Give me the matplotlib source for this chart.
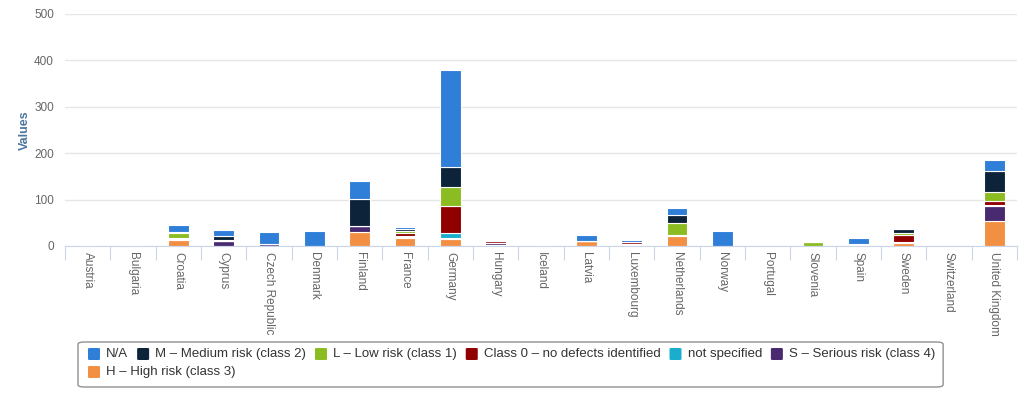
import matplotlib.pyplot as plt
from matplotlib.patches import FancyBboxPatch
import numpy as np

plt.rcParams['font.family'] = ['Liberation Sans', 'DejaVu Sans']

countries = ['Austria', 'Bulgaria', 'Croatia', 'Cyprus', 'Czech Republic', 'Denmark',
             'Finland', 'France', 'Germany', 'Hungary', 'Iceland', 'Latvia', 'Luxembourg',
             'Netherlands', 'Norway', 'Portugal', 'Slovenia', 'Spain', 'Sweden',
             'Switzerland', 'United Kingdom']

# series, listed in legend order (first one ends up on top of the stack)
series_names = ['N/A', 'M – Medium risk (class 2)', 'L – Low risk (class 1)',
                'Class 0 – no defects identified', 'not specified',
                'S – Serious risk (class 4)', 'H – High risk (class 3)']
colors = ['#2f7ed8', '#0d233a', '#8bbc21', '#910000', '#1aadce', '#492970', '#f28f43']

na_vals = [3, 0, 15, 14, 25, 33, 39, 6, 209, 0, 3, 13, 6, 15, 32, 0, 0, 12, 0, 0, 24]
m_vals = [0, 0, 3, 8, 0, 0, 57, 3, 43, 0, 0, 0, 0, 18, 0, 0, 0, 0, 9, 0, 46]
l_vals = [0, 2, 10, 3, 0, 0, 0, 6, 42, 0, 0, 0, 0, 25, 0, 0, 8, 0, 4, 0, 19]
c0_vals = [0, 0, 2, 0, 0, 0, 0, 5, 58, 3, 0, 0, 3, 0, 0, 0, 0, 0, 16, 0, 9]
ns_vals = [0, 0, 0, 0, 0, 0, 0, 2, 10, 0, 0, 0, 0, 0, 0, 0, 0, 2, 0, 0, 2]
s_vals = [0, 0, 3, 10, 4, 0, 14, 3, 3, 4, 0, 0, 2, 2, 0, 0, 0, 0, 1, 0, 33]
h_vals = [0, 0, 13, 0, 1, 0, 30, 17, 15, 3, 0, 10, 3, 22, 0, 0, 1, 3, 7, 0, 53]

series = [na_vals, m_vals, l_vals, c0_vals, ns_vals, s_vals, h_vals]

W, H = 1019, 395
fig = plt.figure(figsize=(W / 100, H / 100), dpi=100)
ax = fig.add_axes([65 / W, 1 - 246 / H, (1017 - 65) / W, (246 - 14) / H])

x = np.arange(len(countries))
bottom = np.zeros(len(countries))
# stack from the last series up to the first
for name, vals, col in reversed(list(zip(series_names, series, colors))):
    v = np.array(vals, dtype=float)
    ax.bar(x, v, 0.46, bottom=bottom, color=col, edgecolor='white', linewidth=0.8, zorder=2)
    bottom += v

ax.set_xlim(-0.5, len(countries) - 0.5)
ax.set_ylim(0, 500)
ax.set_yticks(range(0, 501, 100))
ax.yaxis.grid(True, color='#e6e6e6', linewidth=1, zorder=0)
ax.set_axisbelow(True)
for s in ['top', 'right', 'left']:
    ax.spines[s].set_visible(False)
ax.spines['bottom'].set_color('#ccd6eb')
ax.spines['bottom'].set_zorder(3)
ax.tick_params(axis='y', length=0, pad=8, labelsize=8.5, labelcolor='#666666')

# category ticks sit on boundaries, labels in the middle
ax.set_xticks(np.arange(len(countries) + 1) - 0.5)
ax.set_xticklabels([])
ax.set_xticks(x, minor=True)
ax.set_xticklabels(countries, minor=True, rotation=-90, fontsize=8.5, color='#666666',
                   va='top', ha='center')
ax.tick_params(axis='x', which='major', length=10, color='#ccd6eb')
ax.tick_params(axis='x', which='minor', length=0, pad=4)

ax.set_ylabel('Values', fontsize=9, fontweight='bold', color='#4d759e', labelpad=2)

# legend box, laid out row by row like the original
fig.canvas.draw()
renderer = fig.canvas.get_renderer()


def px(xp, yp):
    return xp / W, 1 - yp / H


left, right_limit = 88, 940
row_y = [354, 372]
cur_x, row = left, 0
max_x = left
for name, col in zip(series_names, colors):
    t = fig.text(0, 0, name, fontsize=9.5, color='#333333')
    tw = t.get_window_extent(renderer).width
    item_w = 12 + 6 + tw
    if cur_x + item_w > right_limit and cur_x > left:
        row += 1
        cur_x = left
    yc = row_y[row]
    fig.patches.append(FancyBboxPatch(px(cur_x, yc + 6), 12 / W, 12 / H,
                                      boxstyle='round,pad=0,rounding_size=0.002',
                                      transform=fig.transFigure, facecolor=col,
                                      edgecolor='none'))
    t.set_position(px(cur_x + 18, yc))
    t.set_va('center')
    max_x = max(max_x, cur_x + item_w)
    cur_x += item_w + 9

fig.patches.append(FancyBboxPatch(px(78, 387), (max_x + 8 - 78) / W, 45 / H,
                                  boxstyle='round,pad=0,rounding_size=0.006',
                                  transform=fig.transFigure, facecolor='none',
                                  edgecolor='#909090', linewidth=1))

fig.savefig('out.png', dpi=100)
